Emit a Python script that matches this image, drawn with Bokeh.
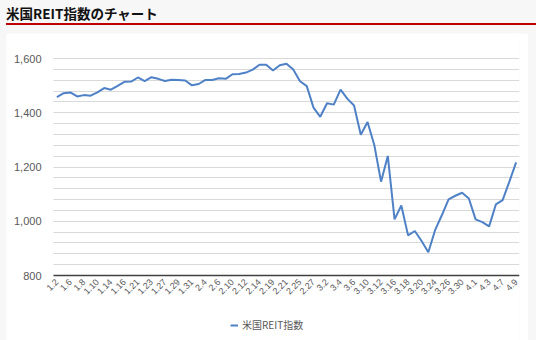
import math
from bokeh.plotting import figure
from bokeh.layouts import column
from bokeh.models import (Range1d, FixedTicker, NumeralTickFormatter,
                          Legend, LegendItem, ColumnDataSource, Div)
from bokeh.embed import file_html
from bokeh.resources import INLINE

title_text = "米国REIT指数のチャート"
series_name = "米国REIT指数"

dates = [
    "1.2", "1.3", "1.6", "1.7", "1.8", "1.9", "1.10", "1.13", "1.14", "1.15", "1.16", "1.17",
    "1.21", "1.22", "1.23", "1.24", "1.27", "1.28", "1.29", "1.30", "1.31",
    "2.3", "2.4", "2.5", "2.6", "2.7", "2.10", "2.11", "2.12", "2.13", "2.14", "2.18",
    "2.19", "2.20", "2.21", "2.24", "2.25", "2.26", "2.27", "2.28",
    "3.2", "3.3", "3.4", "3.5", "3.6", "3.9", "3.10", "3.11", "3.12", "3.13", "3.16", "3.17",
    "3.18", "3.19", "3.20", "3.23", "3.24", "3.25", "3.26", "3.27", "3.30", "3.31",
    "4.1", "4.2", "4.3", "4.6", "4.7", "4.8", "4.9",
]

values = [
    1458, 1472, 1475, 1460, 1465, 1463, 1475, 1491, 1485, 1499, 1514, 1515,
    1530, 1517, 1531, 1525, 1517, 1522, 1521, 1519, 1501,
    1506, 1521, 1521, 1527, 1525, 1542, 1543, 1548, 1559, 1577, 1577,
    1556, 1575, 1581, 1559, 1516, 1498, 1419, 1385,
    1435, 1430, 1485, 1452, 1427, 1319, 1366, 1281, 1146, 1241, 1007, 1058,
    948, 964, 927, 886, 967, 1022, 1081, 1094, 1105, 1084,
    1007, 997, 981, 1062, 1078, 1146, 1217,
]

y_axis_min, y_axis_max = 800, 1600
y_major_step, y_minor_step = 200, 40

idx = list(range(len(dates)))
n = len(dates)

# layout in page pixels
fig_left, fig_top = 6, 33
plot_left, plot_right = 53, 519          # where the category axis spans
plot_top, axis_y, frame_bottom = 58, 275, 340
px_per_cat = (plot_right - plot_left) / n
x_lo, x_hi = -0.5, n - 0.5
x_start = x_lo - (plot_left - fig_left) / px_per_cat
px_per_unit = (axis_y - plot_top) / (y_axis_max - y_axis_min)
y_start = y_axis_min - (frame_bottom - axis_y) / px_per_unit
y_end = y_axis_max + (plot_top - fig_top) / px_per_unit

p = figure(width=522, height=307, output_backend="svg", toolbar_location=None,
           x_range=Range1d(x_start, x_hi),
           y_range=Range1d(y_start, y_end),
           min_border_left=0, min_border_right=528 - plot_right,
           min_border_top=0, min_border_bottom=0,
           margin=(0, 0, 0, fig_left))
p.border_fill_color = "white"
p.background_fill_color = "white"
p.outline_line_color = None

src = ColumnDataSource(dict(x=idx, y=values))
r = p.line("x", "y", source=src, line_color="#4f81c7", line_width=2)

# grid
p.xgrid.grid_line_color = None
p.ygrid.ticker = FixedTicker(ticks=list(range(y_axis_min, y_axis_max + 1, y_minor_step)))
p.ygrid.cross_bounds = (x_lo, x_hi)
p.ygrid.grid_line_color = "#d9d9d9"
p.ygrid.grid_line_width = 1

# y axis (sits at the left edge of the category span, inside the frame)
ya = p.yaxis[0]
ya.fixed_location = x_lo
ya.bounds = (y_axis_min, y_axis_max)
ya.ticker = FixedTicker(ticks=list(range(y_axis_min, y_axis_max + 1, y_major_step)))
ya.formatter = NumeralTickFormatter(format="0,0")
ya.axis_line_color = None
ya.major_tick_line_color = None
ya.minor_tick_line_color = None
ya.major_tick_out = 0
ya.major_tick_in = 0
ya.major_label_standoff = 12
ya.major_label_text_font = "Liberation Sans"
ya.major_label_text_font_size = "11px"
ya.major_label_text_color = "#595959"

# x axis (sits at y = 800 inside the frame)
xa = p.xaxis[0]
xa.fixed_location = y_axis_min
xa.bounds = (x_lo, x_hi)
xa.ticker = FixedTicker(ticks=idx[::2])
xa.major_label_overrides = {i: dates[i] for i in idx[::2]}
xa.axis_line_color = "#404040"
xa.axis_line_width = 1.5
xa.major_tick_line_color = None
xa.minor_tick_line_color = None
xa.major_tick_out = 0
xa.major_tick_in = 0
xa.major_label_orientation = math.pi / 4
xa.major_label_standoff = 5
xa.major_label_text_font = "Liberation Sans"
xa.major_label_text_font_size = "9px"
xa.major_label_text_color = "#595959"

legend = Legend(items=[LegendItem(label=series_name, renderers=[r])],
                location=(230 - fig_left, 8), orientation="horizontal",
                padding=0, margin=0, spacing=0, label_standoff=4,
                glyph_width=8, glyph_height=12, label_height=12,
                label_text_font="Noto Sans CJK JP", label_text_font_size="10px",
                label_text_color="#595959", background_fill_alpha=0,
                border_line_color=None)
p.add_layout(legend)

title_html = (
    '<div style="font-family:\'Noto Sans CJK JP\',sans-serif;font-weight:bold;'
    'font-size:13.5px;line-height:16px;color:#111111;padding-top:5px;height:18px;'
    'width:530px;box-sizing:content-box;border-bottom:2.2px solid #c00000;white-space:nowrap;">'
    + title_text + '</div>'
)
title_div = Div(text=title_html, width=530, height=33, margin=(0, 0, 0, 6))

page = column(title_div, p, width=536, height=340,
              styles={"background-color": "#f7f7f7"})

open("out.html", "w").write(file_html(page, INLINE))
